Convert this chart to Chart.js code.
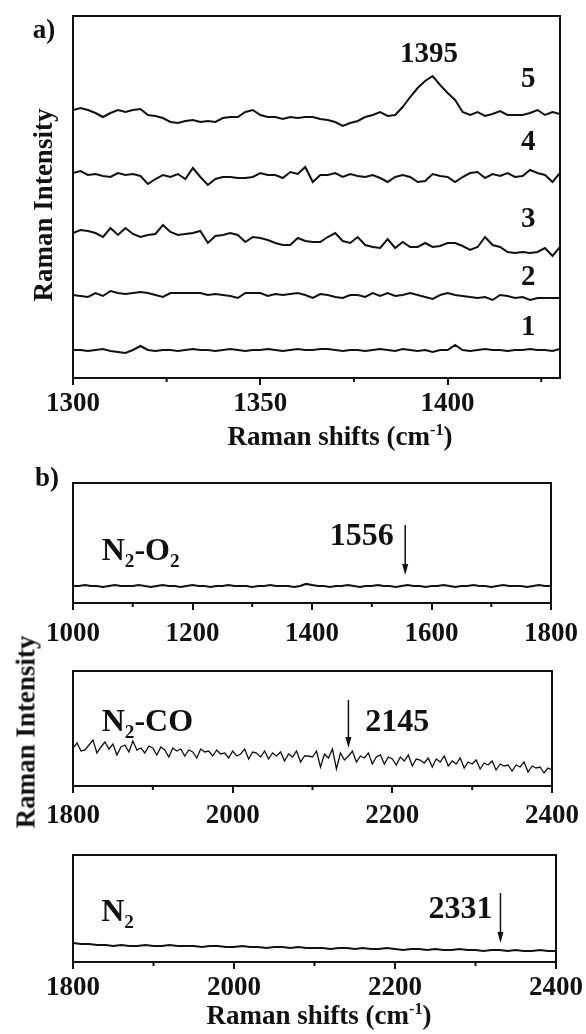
<!DOCTYPE html>
<html>
<head>
<meta charset="utf-8">
<script src="https://cdn.jsdelivr.net/npm/chart.js@4.4.1/dist/chart.umd.min.js"></script>
<style>
  body { margin: 0; background: #fff; width: 586px; height: 1034px; position: relative; overflow: hidden; }
  canvas { position: absolute; left: 0; }
  .lbl { position: absolute; transform: translate(-50%, -50%); white-space: nowrap; z-index: 2;
         font-family: 'Liberation Serif', 'Times New Roman', serif; font-weight: bold; font-size: 27px; color: #111; line-height: 1; }
  .rot { transform: translate(-50%, -50%) rotate(-90deg); }
  .lbl sup { font-size: 0.6em; vertical-align: 0.6em; line-height: 0; }
</style>
</head>
<body>
<canvas id="panelA" width="586" height="465" style="top:0px"></canvas>
<canvas id="panelO2" width="586" height="195" style="top:465px"></canvas>
<canvas id="panelCO" width="586" height="180" style="top:660px"></canvas>
<canvas id="panelN2" width="586" height="194" style="top:840px"></canvas>

<div class="lbl" style="left:44px;top:29px">a)</div>
<div class="lbl" style="left:47px;top:477px">b)</div>
<div class="lbl rot" style="left:43px;top:205px">Raman Intensity</div>
<div class="lbl rot" style="left:26px;top:732px">Raman Intensity</div>
<div class="lbl" style="left:340px;top:436px">Raman shifts (cm<sup>-1</sup>)</div>
<div class="lbl" style="left:319px;top:1015px">Raman shifts (cm<sup>-1</sup>)</div>

<script>
// ---- panel a: Raman shift grid and the five stacked spectra (offset intensity) ----
const shiftA = [
  1300,1302,1304,1306,1308,1310,1312,1314,1316,1318,
  1320,1322,1324,1326,1328,1330,1332,1334,1336,1338,
  1340,1342,1344,1346,1348,1350,1352,1354,1356,1358,
  1360,1362,1364,1366,1368,1370,1372,1374,1376,1378,
  1380,1382,1384,1386,1388,1390,1392,1394,1396,1398,
  1400,1402,1404,1406,1408,1410,1412,1414,1416,1418,
  1420,1422,1424,1426,1428,1430
];
const spec5 = [
  268,270,268,265,261,265,268,266,268,269,
  263,262,260,256,255,257,258,256,257,256,
  260,261,261,266,268,263,261,261,259,261,
  260,261,261,259,258,256,252,255,257,261,
  263,266,262,263,271,281,290,297,302,293,
  285,278,266,263,266,262,264,267,263,263,
  263,265,268,263,266,264
];
const spec4 = [
  205,207,203,204,202,201,205,203,204,202,
  194,199,203,201,204,199,210,201,193,199,
  201,201,200,200,201,205,203,203,200,206,
  204,211,196,203,203,205,201,204,202,201,
  203,200,196,201,203,201,196,197,204,202,
  201,196,201,205,206,200,204,202,205,201,
  202,208,205,203,196,205
];
const spec3 = [
  145,148,147,145,141,150,143,150,144,141,
  143,144,153,146,143,144,145,147,135,142,
  143,145,143,136,141,140,138,135,133,133,
  140,137,136,136,141,145,137,135,141,133,
  131,130,139,130,136,131,131,135,131,132,
  135,135,132,128,131,141,133,131,126,125,
  126,125,126,130,122,131
];
const spec2 = [
  83,82,81,85,82,87,85,84,85,86,
  85,83,81,85,85,85,85,85,83,84,
  83,82,80,85,85,85,82,84,83,84,
  85,83,80,84,83,81,80,83,83,81,
  85,82,85,82,83,85,83,81,79,83,
  85,83,82,81,80,81,78,83,82,80,
  81,78,80,80,80,80
];
const spec1 = [
  28,28,27,28,29,27,26,25,28,32,
  28,27,28,28,27,28,29,28,28,27,
  28,29,28,27,28,28,29,28,27,28,
  29,28,28,29,29,28,27,28,28,27,
  28,29,28,27,29,28,27,28,26,28,
  28,33,28,27,28,29,28,28,27,28,
  28,29,28,28,27,29
];

// ---- panel b: N2-O2, N2-CO and N2 spectra ----
const shiftO2 = [
  1000,1010,1020,1030,1040,1050,1060,1070,1080,1090,
  1100,1110,1120,1130,1140,1150,1160,1170,1180,1190,
  1200,1210,1220,1230,1240,1250,1260,1270,1280,1290,
  1300,1310,1320,1330,1340,1350,1360,1370,1380,1390,
  1400,1410,1420,1430,1440,1450,1460,1470,1480,1490,
  1500,1510,1520,1530,1540,1550,1560,1570,1580,1590,
  1600,1610,1620,1630,1640,1650,1660,1670,1680,1690,
  1700,1710,1720,1730,1740,1750,1760,1770,1780,1790,
  1800
];
const specO2 = [
  17,17,18,17,17,16,17,18,17,17,
  17,18,17,16,17,18,17,17,16,17,
  18,17,17,16,17,17,18,17,17,17,
  16,17,17,18,17,17,17,16,17,19,
  18,17,17,16,17,17,18,17,16,17,
  17,18,17,17,16,17,18,17,17,16,
  17,17,18,17,16,17,17,18,17,17,
  16,17,18,17,17,17,16,17,18,17,
  17
];
const shiftCO = [
  1800,1805,1810,1815,1820,1825,1830,1835,1840,1845,
  1850,1855,1860,1865,1870,1875,1880,1885,1890,1895,
  1900,1905,1910,1915,1920,1925,1930,1935,1940,1945,
  1950,1955,1960,1965,1970,1975,1980,1985,1990,1995,
  2000,2005,2010,2015,2020,2025,2030,2035,2040,2045,
  2050,2055,2060,2065,2070,2075,2080,2085,2090,2095,
  2100,2105,2110,2115,2120,2125,2130,2135,2140,2145,
  2150,2155,2160,2165,2170,2175,2180,2185,2190,2195,
  2200,2205,2210,2215,2220,2225,2230,2235,2240,2245,
  2250,2255,2260,2265,2270,2275,2280,2285,2290,2295,
  2300,2305,2310,2315,2320,2325,2330,2335,2340,2345,
  2350,2355,2360,2365,2370,2375,2380,2385,2390,2395,
  2400
];
const specCO = [
  38,43,35,36,41,46,33,39,44,37,
  42,31,39,41,34,45,36,38,33,40,
  38,31,39,36,29,38,35,37,30,36,
  34,28,37,34,35,30,36,32,33,28,
  35,30,32,37,27,34,33,29,35,27,
  33,30,34,25,32,29,35,24,30,30,
  29,35,19,32,28,37,17,33,26,30,
  35,24,30,28,33,22,29,31,22,29,
  27,21,29,25,31,20,27,26,23,28,
  19,27,24,30,20,25,22,28,18,24,
  22,26,17,23,21,25,16,22,20,21,
  15,21,19,24,14,20,18,19,13,18,
  16
];
const shiftN2 = [
  1800,1810,1820,1830,1840,1850,1860,1870,1880,1890,
  1900,1910,1920,1930,1940,1950,1960,1970,1980,1990,
  2000,2010,2020,2030,2040,2050,2060,2070,2080,2090,
  2100,2110,2120,2130,2140,2150,2160,2170,2180,2190,
  2200,2210,2220,2230,2240,2250,2260,2270,2280,2290,
  2300,2310,2320,2330,2340,2350,2360,2370,2380,2390,
  2400
];
const specN2 = [
  19,18,18,17,17,16,17,16,16,17,
  16,16,17,16,16,16,15,16,16,15,
  15,16,15,15,14,15,15,14,15,14,
  14,14,13,14,14,13,14,13,13,14,
  13,12,13,13,12,13,12,12,13,12,
  12,11,12,12,11,12,11,11,12,11,
  11
];

// in-plot labels (x in cm-1, y in the panel's intensity units); "_2" = subscript 2
const notesA = [
  { text: '1395', x: 1395, y: 323, align: 'center' },
  { text: '5', x: 1421.5, y: 298, align: 'center' },
  { text: '4', x: 1421.5, y: 235, align: 'center' },
  { text: '3', x: 1421.5, y: 158, align: 'center' },
  { text: '2', x: 1421.5, y: 100, align: 'center' },
  { text: '1', x: 1421.5, y: 50, align: 'center' }
];
const notesO2 = [
  { text: 'N_2-O_2', x: 1048, y: 51, align: 'left' },
  { text: '1556', x: 1537, y: 66, align: 'right' }
];
const notesCO = [
  { text: 'N_2-CO', x: 1836, y: 63, align: 'left' },
  { text: '2145', x: 2166, y: 63, align: 'left' }
];
const notesN2 = [
  { text: 'N_2', x: 1835, y: 49, align: 'left' },
  { text: '2331', x: 2321, y: 52, align: 'right' }
];
const arrowsO2 = [{ x: 1556, from: 78, to: 28 }];
const arrowsCO = [{ x: 2145, from: 86, to: 38 }];
const arrowsN2 = [{ x: 2331, from: 69, to: 19 }];

const fontFamily = "'Liberation Serif', 'Times New Roman', serif";
const ink = '#111';

function pts(xs, ys) {
  return xs.map((v, i) => ({ x: v, y: ys[i] }));
}

// draws text where "_c" makes c a subscript
function drawRich(ctx, text, x, y, align, size) {
  const parts = [];
  let buf = '';
  for (let i = 0; i < text.length; i++) {
    if (text[i] === '_') {
      if (buf) parts.push({ t: buf, sub: false });
      buf = '';
      parts.push({ t: text[i + 1], sub: true });
      i++;
    } else {
      buf += text[i];
    }
  }
  if (buf) parts.push({ t: buf, sub: false });

  const f = s => 'bold ' + s + 'px ' + fontFamily;
  let w = 0;
  parts.forEach(p => {
    ctx.font = f(p.sub ? size * 0.6 : size);
    p.w = ctx.measureText(p.t).width;
    w += p.w;
  });
  let cx = align === 'left' ? x : align === 'right' ? x - w : x - w / 2;
  ctx.textAlign = 'left';
  ctx.textBaseline = 'middle';
  parts.forEach(p => {
    ctx.font = f(p.sub ? size * 0.6 : size);
    ctx.fillText(p.t, cx, p.sub ? y + size * 0.32 : y);
    cx += p.w;
  });
}

// frame box, short minor ticks, labels and arrows
const panelDecor = {
  id: 'panelDecor',
  afterDatasetsDraw(chart, args, o) {
    const { ctx, chartArea: a } = chart;
    const xs = chart.scales.x, ys = chart.scales.y;
    ctx.save();
    ctx.strokeStyle = ink;
    ctx.fillStyle = ink;
    ctx.lineWidth = 2;
    ctx.strokeRect(a.left, a.top, a.right - a.left, a.bottom - a.top);

    ctx.beginPath();
    o.minor.forEach(v => {
      const px = xs.getPixelForValue(v);
      ctx.moveTo(px, a.bottom);
      ctx.lineTo(px, a.bottom + 4);
    });
    ctx.stroke();

    o.notes.forEach(n => drawRich(ctx, n.text, xs.getPixelForValue(n.x), ys.getPixelForValue(n.y), n.align, o.size));

    ctx.lineWidth = 1.5;
    o.arrows.forEach(ar => {
      const px = xs.getPixelForValue(ar.x);
      const y0 = ys.getPixelForValue(ar.from), y1 = ys.getPixelForValue(ar.to);
      ctx.beginPath();
      ctx.moveTo(px, y0);
      ctx.lineTo(px, y1 - 8);
      ctx.stroke();
      ctx.beginPath();
      ctx.moveTo(px - 3, y1 - 11);
      ctx.lineTo(px + 3, y1 - 11);
      ctx.lineTo(px, y1);
      ctx.closePath();
      ctx.fill();
    });
    ctx.restore();
  }
};

function makePanel(id, cfg) {
  return new Chart(document.getElementById(id), {
    type: 'line',
    data: {
      datasets: cfg.series.map(s => ({
        data: s,
        borderColor: ink,
        borderWidth: cfg.lw,
        pointRadius: 0,
        tension: 0,
        fill: false
      }))
    },
    options: {
      responsive: false,
      animation: false,
      devicePixelRatio: 1,
      layout: { padding: { top: cfg.top, left: 73, right: cfg.right, bottom: 0 } },
      plugins: {
        legend: { display: false },
        tooltip: { enabled: false },
        panelDecor: { minor: cfg.minor, notes: cfg.notes, arrows: cfg.arrows, size: cfg.noteSize }
      },
      scales: {
        x: {
          type: 'linear',
          min: cfg.min,
          max: cfg.max,
          afterFit: s => { s.height = cfg.axisH; },
          ticks: {
            stepSize: cfg.step,
            includeBounds: false,
            autoSkip: false,
            maxRotation: 0,
            padding: cfg.pad,
            color: ink,
            font: { family: fontFamily, size: 27, weight: 'bold' },
            callback: v => String(v)
          },
          grid: { drawOnChartArea: false, drawTicks: true, tickLength: 7, lineWidth: 2, color: ink },
          border: { display: false }
        },
        y: { display: false, min: 0, max: cfg.ymax }
      }
    },
    plugins: [panelDecor]
  });
}

makePanel('panelA', {
  series: [pts(shiftA, spec1), pts(shiftA, spec2), pts(shiftA, spec3), pts(shiftA, spec4), pts(shiftA, spec5)],
  lw: 2, top: 16, right: 26, axisH: 87, pad: 3, noteSize: 29,
  min: 1300, max: 1430, step: 50, ymax: 362,
  minor: [1325, 1375, 1425], notes: notesA, arrows: []
});
makePanel('panelO2', {
  series: [pts(shiftO2, specO2)],
  lw: 2.2, top: 18, right: 28, axisH: 57, pad: 8, noteSize: 32,
  min: 1000, max: 1800, step: 200, ymax: 120,
  minor: [1100, 1300, 1500, 1700], notes: notesO2, arrows: arrowsO2
});
makePanel('panelCO', {
  series: [pts(shiftCO, specCO)],
  lw: 1.3, top: 11, right: 28, axisH: 54, pad: 7, noteSize: 32,
  min: 1800, max: 2400, step: 200, ymax: 115,
  minor: [1900, 2100, 2300], notes: notesCO, arrows: arrowsCO
});
makePanel('panelN2', {
  series: [pts(shiftN2, specN2)],
  lw: 2.2, top: 15, right: 28, axisH: 72, pad: 3, noteSize: 32,
  min: 1800, max: 2400, step: 200, ymax: 107,
  minor: [1900, 2100, 2300], notes: notesN2, arrows: arrowsN2
});
</script>
</body>
</html>
